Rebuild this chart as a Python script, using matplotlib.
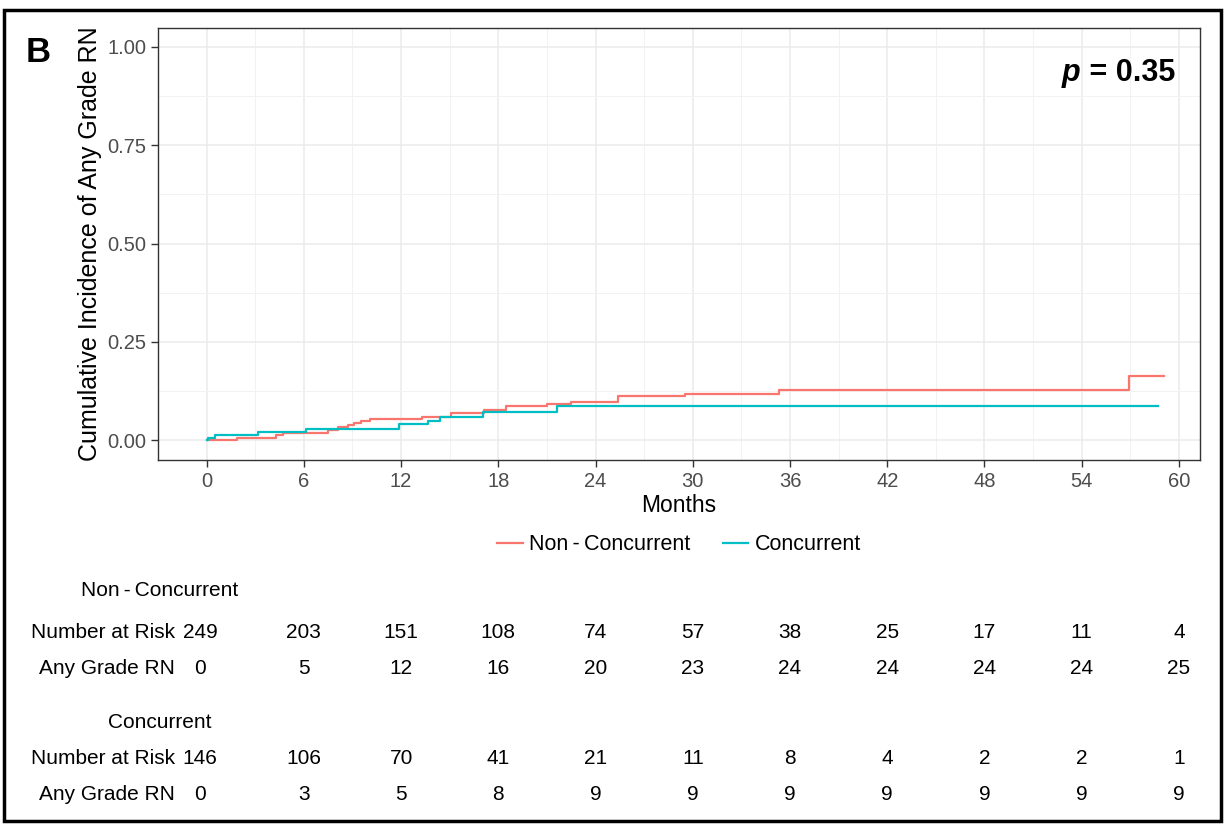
import matplotlib
matplotlib.use("Agg")
import matplotlib.pyplot as plt
from matplotlib.patches import Rectangle
from matplotlib.transforms import blended_transform_factory
from matplotlib.ticker import MultipleLocator

plt.rcParams["font.family"] = ["Liberation Sans", "DejaVu Sans"]

# cumulative incidence steps (months, value)
noncon_t = [0, 1.9, 4.3, 4.7, 7.5, 8.1, 8.7, 9.1, 9.5, 10.1, 13.3, 15.1, 17.1, 18.5, 21.0, 22.5, 25.4, 29.5, 35.3, 56.9]
noncon_y = [0, 0.007, 0.0145, 0.018, 0.025, 0.033, 0.040, 0.045, 0.049, 0.054, 0.060, 0.069, 0.076, 0.087, 0.093, 0.098, 0.113, 0.119, 0.127, 0.163]
noncon_end = 59.1

con_t = [0, 0.1, 0.5, 3.2, 6.15, 11.9, 13.65, 14.4, 17.06, 21.6]
con_y = [0, 0.007, 0.0145, 0.021, 0.029, 0.0425, 0.049, 0.059, 0.072, 0.088]
con_end = 58.7

# risk table
table_months = [0, 6, 12, 18, 24, 30, 36, 42, 48, 54, 60]
noncon_risk = [249, 203, 151, 108, 74, 57, 38, 25, 17, 11, 4]
noncon_events = [0, 5, 12, 16, 20, 23, 24, 24, 24, 24, 25]
con_risk = [146, 106, 70, 41, 21, 11, 8, 4, 2, 2, 1]
con_events = [0, 3, 5, 8, 9, 9, 9, 9, 9, 9, 9]

RED = "#F8766D"
TEAL = "#00BFC4"
W, H = 1225, 825
NONCON = "Non\u2009-\u2009Concurrent"

fig = plt.figure(figsize=(12.25, 8.25), dpi=100)
ax = fig.add_axes([158 / W, 1 - 460 / H, (1200 - 158) / W, (460 - 28) / H])

ax.step(noncon_t + [noncon_end], noncon_y + [noncon_y[-1]], where="post", color=RED, lw=1.6, label=NONCON)
ax.step(con_t + [con_end], con_y + [con_y[-1]], where="post", color=TEAL, lw=1.6, label="Concurrent")

ax.set_xlim(-3.0, 61.3)
ax.set_ylim(-0.05, 1.048)
ax.xaxis.set_major_locator(MultipleLocator(6))
ax.xaxis.set_minor_locator(MultipleLocator(3))
ax.yaxis.set_major_locator(MultipleLocator(0.25))
ax.yaxis.set_minor_locator(MultipleLocator(0.125))
ax.yaxis.set_major_formatter(matplotlib.ticker.FormatStrFormatter("%.2f"))
ax.grid(which="major", color="#EBEBEB", lw=1.1)
ax.grid(which="minor", color="#F2F2F2", lw=0.7)
ax.set_axisbelow(True)
ax.tick_params(which="major", length=5, width=1, color="#333333", labelsize=14.5, labelcolor="#4D4D4D")
ax.tick_params(which="minor", length=0)
for s in ax.spines.values():
    s.set_color("#333333")
    s.set_linewidth(1.0)

ax.set_xlabel("Months", fontsize=16.5, labelpad=2)
ax.set_ylabel("Cumulative Incidence of Any Grade RN", fontsize=18, labelpad=4)

ax.legend(loc="center", bbox_to_anchor=(0.5, (H - 545) / H),
          bbox_transform=blended_transform_factory(ax.transAxes, fig.transFigure),
          ncol=2, frameon=False, fontsize=15.5, handlelength=1.2, handletextpad=0.3, columnspacing=1.5)

# p value: italic bold p, then bold rest
rest = fig.text(1175 / W, 1 - 73 / H, " = 0.35", fontsize=22, fontweight="bold", ha="right", va="center")
fig.canvas.draw()
bb = rest.get_window_extent()
fig.text(bb.x0 / W, 1 - 73 / H, "p", fontsize=22, fontweight="bold", fontstyle="italic", ha="right", va="center")

fig.text(38 / W, 1 - 53 / H, "B", fontsize=25, fontweight="bold", ha="center", va="center")

# risk table
tr = blended_transform_factory(ax.transData, fig.transFigure)
rows = [
    (591, NONCON, None),
    (632, "Number at Risk", noncon_risk),
    (668, "Any Grade RN", noncon_events),
    (723, "Concurrent", None),
    (758, "Number at Risk", con_risk),
    (795, "Any Grade RN", con_events),
]
for ypx, label, vals in rows:
    yf = 1 - ypx / H
    if vals is None:
        fig.text(160 / W, yf, label, fontsize=15, ha="center", va="center")
        continue
    fig.text(175 / W, yf, label, fontsize=15, ha="right", va="center")
    for m, v in zip(table_months, vals):
        xx = m - 0.4 if m == 0 else m
        ax.text(xx, yf, str(v), transform=tr, fontsize=15, ha="center", va="center", clip_on=False)

fig.patches.append(Rectangle((4 / W, 4 / H), (W - 8) / W, (H - 14) / H, transform=fig.transFigure,
                             fill=False, edgecolor="black", lw=2.5))

fig.savefig("out.png", dpi=100, facecolor="white")
